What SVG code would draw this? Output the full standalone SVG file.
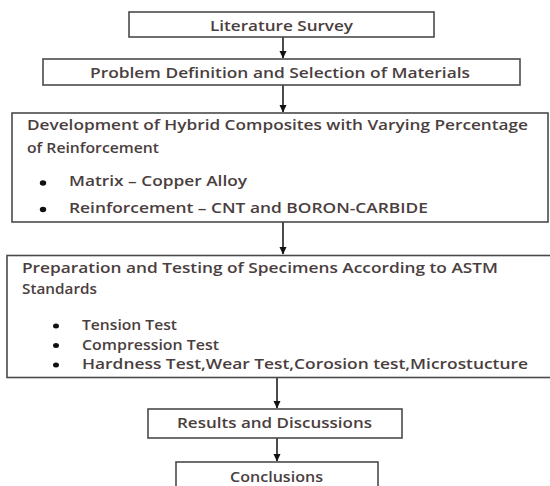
<svg xmlns="http://www.w3.org/2000/svg" width="550" height="486" viewBox="0 0 550 486">
<defs>
<marker id="ah" markerWidth="8" markerHeight="8" refX="7" refY="4" orient="auto" markerUnits="userSpaceOnUse">
<path d="M0,0.5 L7.5,4 L0,7.5 Z" fill="#111"/>
</marker>
<style>
.box{fill:#fff;stroke:#4a4a4a;stroke-width:1.6}
.t{font-family:"Open Sans","Noto Sans",sans-serif;font-size:14px;font-weight:600;fill:#4a3e3e}
.con{stroke:#111;stroke-width:1.5;fill:none;marker-end:url(#ah)}
.b{fill:#111}
</style>
</defs>
<rect width="550" height="486" fill="#fff"/>
<g id="connectors">
<line class="con" x1="283" y1="37" x2="283" y2="58"/>
<line class="con" x1="283" y1="85" x2="283" y2="112"/>
<line class="con" x1="283" y1="222" x2="283" y2="254"/>
<line class="con" x1="277" y1="378" x2="277" y2="408"/>
<line class="con" x1="277" y1="438" x2="277" y2="461"/>
</g>
<g id="n1">
<rect class="box" x="129" y="12" width="305" height="25"/>
<text class="t" x="210" y="30.5" textLength="143" lengthAdjust="spacingAndGlyphs">Literature Survey</text>
</g>
<g id="n2">
<rect class="box" x="43" y="59" width="477" height="26"/>
<text class="t" x="90" y="78" textLength="380" lengthAdjust="spacingAndGlyphs">Problem Definition and Selection of Materials</text>
</g>
<g id="n3">
<rect class="box" x="12" y="113" width="536" height="109"/>
<text class="t" x="27" y="130" textLength="501" lengthAdjust="spacingAndGlyphs">Development of Hybrid Composites with Varying Percentage</text>
<text class="t" x="27" y="153" textLength="132" lengthAdjust="spacingAndGlyphs">of Reinforcement</text>
<ellipse class="b" cx="43" cy="183" rx="3.2" ry="2.7"/>
<text class="t" x="69" y="186" textLength="178" lengthAdjust="spacingAndGlyphs">Matrix – Copper Alloy</text>
<ellipse class="b" cx="43" cy="209.5" rx="3.2" ry="2.7"/>
<text class="t" x="69" y="213" textLength="359" lengthAdjust="spacingAndGlyphs">Reinforcement – CNT and BORON-CARBIDE</text>
</g>
<g id="n4">
<rect class="box" x="7" y="255.5" width="545" height="122"/>
<text class="t" x="22" y="273" textLength="476" lengthAdjust="spacingAndGlyphs">Preparation and Testing of Specimens  According to ASTM</text>
<text class="t" x="22" y="294" textLength="75" lengthAdjust="spacingAndGlyphs">Standards</text>
<ellipse class="b" cx="56" cy="326" rx="3" ry="2.5"/>
<text class="t" x="82" y="330" textLength="95" lengthAdjust="spacingAndGlyphs">Tension Test</text>
<ellipse class="b" cx="56" cy="345.5" rx="3" ry="2.5"/>
<text class="t" x="82" y="349.5" textLength="137" lengthAdjust="spacingAndGlyphs">Compression Test</text>
<ellipse class="b" cx="56" cy="365" rx="3" ry="2.5"/>
<text class="t" x="82" y="369" textLength="446" lengthAdjust="spacingAndGlyphs">Hardness Test,Wear Test,Corosion test,Microstucture</text>
</g>
<g id="n5">
<rect class="box" x="148" y="409" width="254" height="29"/>
<text class="t" x="177" y="427.5" textLength="195" lengthAdjust="spacingAndGlyphs">Results and Discussions</text>
</g>
<g id="n6">
<rect class="box" x="176" y="462" width="202" height="40"/>
<text class="t" x="230" y="482" textLength="93" lengthAdjust="spacingAndGlyphs">Conclusions</text>
</g>
</svg>
